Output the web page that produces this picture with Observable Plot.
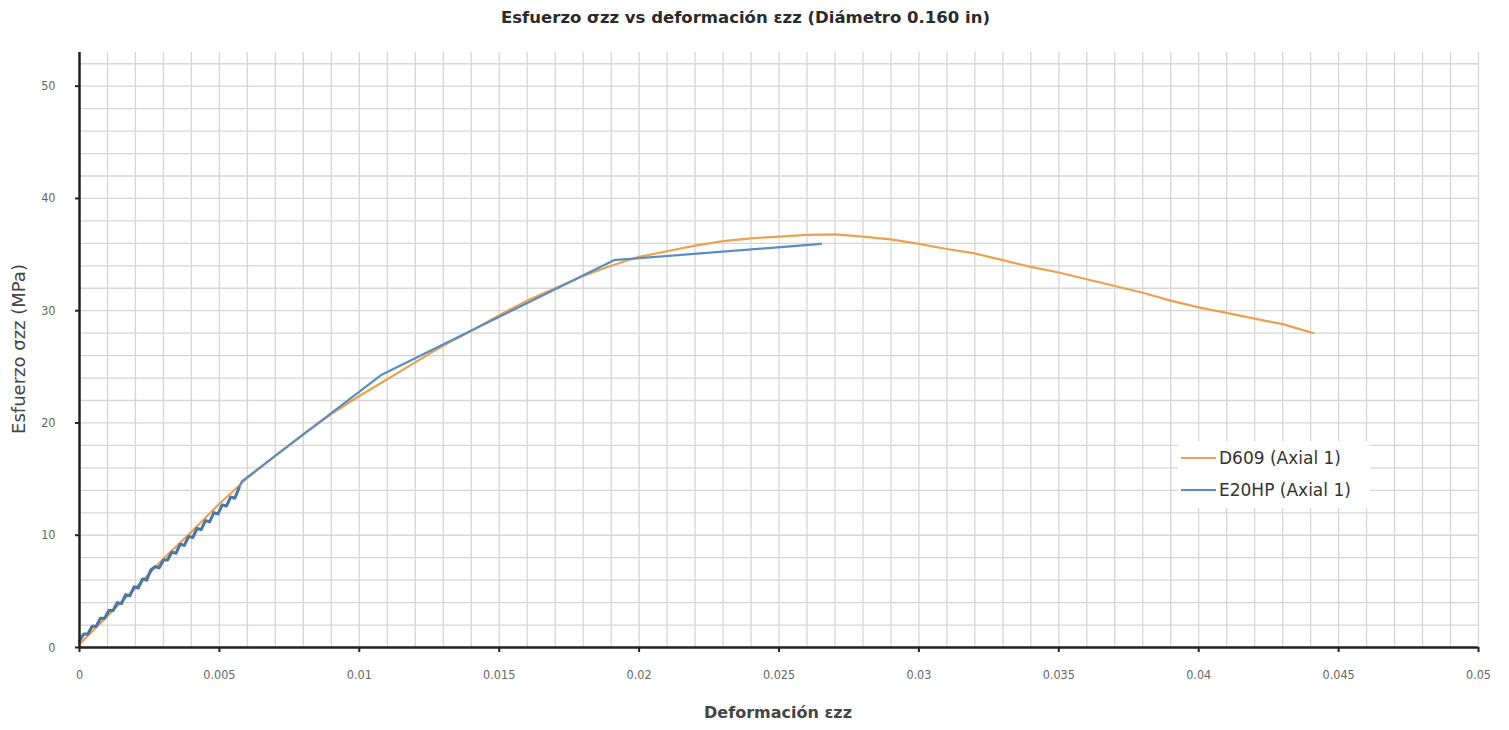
<!DOCTYPE html>
<html>
<head>
<meta charset="utf-8">
<script src="https://cdn.jsdelivr.net/npm/d3@7"></script>
<script src="https://cdn.jsdelivr.net/npm/@observablehq/plot@0.6"></script>
<style>
  html, body { margin: 0; padding: 0; background: #fff; }
  #wrap { position: relative; width: 1509px; height: 730px; font-family: "DejaVu Sans", sans-serif; }
  #title { height: 36px; line-height: 36px; text-align: center; font-weight: bold; font-size: 16.5px; color: #2a2a2a; padding-right: 18px; box-sizing: border-box; }
</style>
</head>
<body>
<div id="wrap">
  <div id="title">Esfuerzo σzz vs deformación εzz (Diámetro 0.160 in)</div>
  <div id="chart"></div>
</div>
<script>
// ---- data ----
const seriesNames = ["D609 (Axial 1)", "E20HP (Axial 1)"];
const seriesColors = ["#eba24f", "#5b8cc4"];

const d609X = [0, 0.001, 0.002, 0.003, 0.004, 0.005, 0.006, 0.007, 0.008, 0.009, 0.010, 0.011, 0.012, 0.013, 0.014, 0.015, 0.016, 0.017, 0.018, 0.019, 0.020, 0.021, 0.022, 0.023, 0.024, 0.025, 0.026, 0.027, 0.028, 0.029, 0.030, 0.031, 0.032, 0.033, 0.034, 0.035, 0.036, 0.037, 0.038, 0.039, 0.040, 0.041, 0.042, 0.043, 0.0441];
const d609Y = [0.3, 2.8, 5.3, 7.9, 10.3, 12.8, 15.1, 17.1, 19.0, 20.8, 22.4, 23.9, 25.4, 26.9, 28.2, 29.6, 30.9, 32.0, 33.1, 34.0, 34.8, 35.3, 35.8, 36.2, 36.45, 36.6, 36.75, 36.8, 36.6, 36.35, 35.95, 35.5, 35.1, 34.5, 33.9, 33.4, 32.8, 32.2, 31.6, 30.9, 30.3, 29.8, 29.3, 28.8, 28.0];

const e20hpX = [0, 0.00015, 0.0003, 0.00045, 0.0006, 0.00075, 0.0009, 0.00105, 0.0012, 0.00135, 0.0015, 0.00165, 0.0018, 0.00195, 0.0021, 0.00225, 0.0024, 0.00255, 0.0027, 0.00285, 0.003, 0.00315, 0.0033, 0.00345, 0.0036, 0.00375, 0.0039, 0.00405, 0.0042, 0.00435, 0.0045, 0.00465, 0.0048, 0.00495, 0.0051, 0.00525, 0.0054, 0.00555, 0.0057, 0.0058, 0.0108, 0.0191, 0.0265];
const e20hpY = [0.6, 1.2, 1.2, 1.9, 1.9, 2.6, 2.6, 3.3, 3.3, 4.0, 3.9, 4.7, 4.6, 5.4, 5.3, 6.1, 6.0, 6.9, 7.2, 7.1, 7.8, 7.8, 8.5, 8.4, 9.2, 9.1, 9.9, 9.8, 10.6, 10.5, 11.3, 11.2, 12.0, 11.9, 12.7, 12.6, 13.4, 13.3, 14.2, 14.8, 24.3, 34.5, 35.95];
const e20hpNoisyCount = 39;

const xTicks = [0, 0.005, 0.01, 0.015, 0.02, 0.025, 0.03, 0.035, 0.04, 0.045, 0.05];
const xTickLabels = ["0", "0.005", "0.01", "0.015", "0.02", "0.025", "0.03", "0.035", "0.04", "0.045", "0.05"];
const yTicks = [0, 10, 20, 30, 40, 50];
const yTickLabels = ["0", "10", "20", "30", "40", "50"];

const xLabel = "Deformación εzz";
const yLabel = "Esfuerzo σzz (MPa)";

// ---- build ----
const d609 = d609X.map((x, i) => ({x, y: d609Y[i]}));
const e20hp = e20hpX.map((x, i) => ({x, y: e20hpY[i]}));
const e20hpNoisy = e20hp.slice(0, e20hpNoisyCount);
const xGrid = d3.range(0, 51).map(i => i / 1000);
const yGrid = d3.range(0, 27).map(i => i * 2);

const chart = Plot.plot({
  width: 1509,
  height: 694,
  marginLeft: 79,
  marginRight: 31,
  marginTop: 16,
  marginBottom: 83,
  x: {domain: [0, 0.05]},
  y: {domain: [0, 53]},
  style: {fontFamily: "'Liberation Sans Narrow', 'DejaVu Sans Condensed', 'Liberation Sans', sans-serif", fontSize: "12.5px", color: "#666", background: "#fff"},
  marks: [
    Plot.gridX(xGrid, {stroke: "#d6d6d6", strokeOpacity: 1, strokeWidth: 1.3}),
    Plot.gridY(yGrid, {stroke: "#d6d6d6", strokeOpacity: 1, strokeWidth: 1.3, x1: 0, x2: 0.05}),
    Plot.line(d609, {x: "x", y: "y", stroke: seriesColors[0], strokeWidth: 2.2}),
    Plot.line(e20hp, {x: "x", y: "y", stroke: seriesColors[1], strokeWidth: 2.2, strokeLinejoin: "round"}),
    Plot.line(e20hpNoisy, {x: "x", y: "y", stroke: "#4a76a8", strokeWidth: 3, strokeLinejoin: "round"}),
    Plot.ruleX([0], {stroke: "#222", strokeWidth: 2.5}),
    Plot.ruleY([0], {stroke: "#222", strokeWidth: 2.5}),
    Plot.axisX(xTicks, {tickFormat: (d, i) => xTickLabels[i], tickSize: 5, tickPadding: 18, stroke: "#222", strokeWidth: 2, label: null, fill: "#666"}),
    Plot.axisY(yTicks, {tickFormat: (d, i) => yTickLabels[i], tickSize: 4, tickPadding: 20, stroke: "#222", strokeWidth: 2, label: null, fill: "#666"})
  ]
});
document.getElementById("chart").appendChild(chart);

const svg = d3.select(chart);
// axis titles
svg.append("text")
  .attr("x", 778).attr("y", 682)
  .attr("text-anchor", "middle")
  .style("font-family", "'DejaVu Sans', sans-serif")
  .style("font-size", "16px").style("font-weight", "bold").style("fill", "#444")
  .text(xLabel);
svg.append("text")
  .attr("transform", "translate(25,313) rotate(-90)")
  .attr("text-anchor", "middle")
  .style("font-family", "'DejaVu Sans', sans-serif")
  .style("font-size", "18px").style("fill", "#444")
  .text(yLabel);

// legend
const lg = svg.append("g");
lg.append("rect").attr("x", 1178).attr("y", 405).attr("width", 192).attr("height", 67).attr("fill", "#fff");
seriesNames.forEach((name, i) => {
  const yy = 422 + i * 32;
  lg.append("line").attr("x1", 1181).attr("x2", 1216).attr("y1", yy).attr("y2", yy)
    .attr("stroke", seriesColors[i]).attr("stroke-width", 2.2);
  lg.append("text").attr("x", 1219).attr("y", yy).attr("dy", "0.35em")
    .attr("text-anchor", "start")
    .style("font-family", "'DejaVu Sans', sans-serif")
    .style("font-size", "17px").style("fill", "#333")
    .text(name);
});
</script>
</body>
</html>
